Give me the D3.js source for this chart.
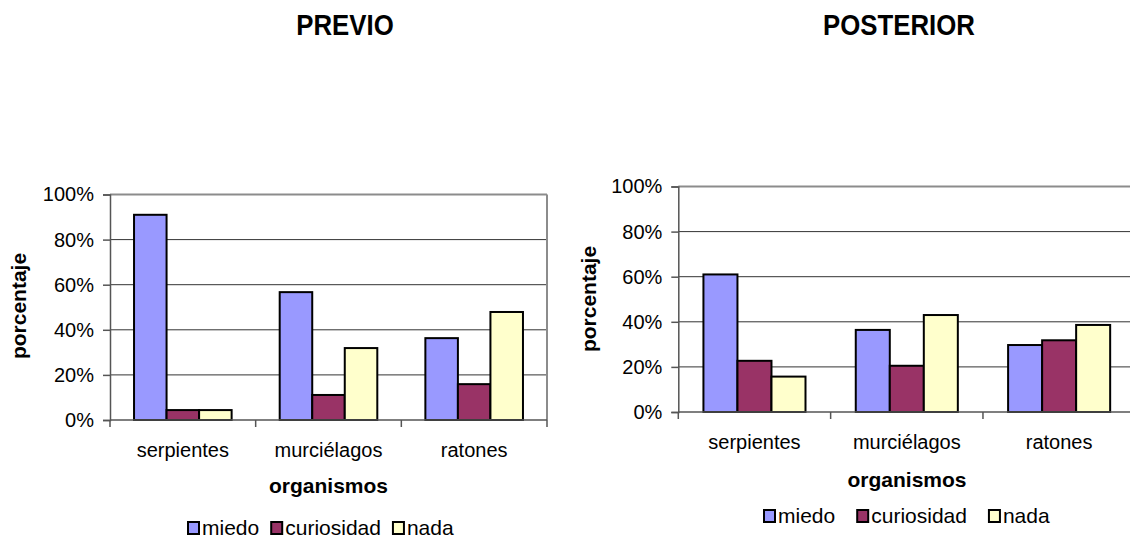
<!DOCTYPE html>
<html>
<head>
<meta charset="utf-8">
<script src="https://cdn.jsdelivr.net/npm/d3@7"></script>
<style>
  body { margin: 0; background: #fff; }
  svg text { font-family: "Liberation Sans", Arial, sans-serif; fill: #000; }
</style>
</head>
<body>
<svg id="chart" width="1130" height="550"></svg>
<script>
// categories / series / ticks
const categories = ['serpientes', 'murciélagos', 'ratones'];
const seriesNames = ['miedo', 'curiosidad', 'nada'];
const seriesColors = ['#9999FF', '#993366', '#FFFFCC'];
const yTicks = [0, 20, 40, 60, 80, 100];

// PREVIO values (%)
const previoMiedo      = [91, 56.7, 36.3];
const previoCuriosidad = [4.4, 11.1, 15.9];
const previoNada       = [4.4, 31.9, 47.9];

// POSTERIOR values (%)
const posteriorMiedo      = [61, 36.4, 29.7];
const posteriorCuriosidad = [22.7, 20.5, 31.8];
const posteriorNada       = [15.7, 43, 38.6];

const svg = d3.select('#chart');

function drawChart(opt) {
  const g = svg.append('g');
  const x = d3.scaleBand().domain(categories).range([opt.left, opt.right]).padding(0);
  const bw = x.bandwidth();
  const xs = d3.scaleBand().domain(seriesNames).range([0.165 * bw, 0.835 * bw]).padding(0);
  const y = d3.scaleLinear().domain([0, 100]).range([opt.bottom, opt.top]);

  // gridlines
  g.selectAll('.grid')
    .data(yTicks.filter(t => t > 0))
    .join('line')
    .attr('x1', opt.left).attr('x2', opt.right)
    .attr('y1', d => y(d)).attr('y2', d => y(d))
    .attr('stroke', d => d === 100 ? '#8c8c8c' : '#333')
    .attr('stroke-width', d => d === 100 ? 2 : 1);

  // right border of plot
  g.append('line')
    .attr('x1', opt.right).attr('x2', opt.right)
    .attr('y1', y(100)).attr('y2', y(0))
    .attr('stroke', '#8c8c8c').attr('stroke-width', 2);

  // bars
  const rows = categories.map((c, i) => ({ cat: c, vals: opt.series.map(s => s[i]) }));
  rows.forEach(r => {
    g.selectAll(null)
      .data(r.vals.map((v, j) => ({ v, name: seriesNames[j], col: seriesColors[j] })))
      .join('rect')
      .attr('x', d => x(r.cat) + xs(d.name))
      .attr('y', d => y(d.v))
      .attr('width', xs.bandwidth())
      .attr('height', d => y(0) - y(d.v))
      .attr('fill', d => d.col)
      .attr('stroke', '#000')
      .attr('stroke-width', 2);
  });

  // y axis
  const yAxis = g.append('g')
    .attr('transform', `translate(${opt.left},0)`)
    .call(d3.axisLeft(y).tickValues(yTicks).tickFormat(d => d + '%').tickSize(7).tickPadding(9));
  yAxis.select('.domain').attr('stroke', '#555').attr('stroke-width', 1.5);
  yAxis.selectAll('.tick line').attr('stroke', '#555').attr('stroke-width', 1.5);
  yAxis.selectAll('.tick text')
    .style('font-size', '20px')
    .style('font-family', '"Liberation Sans", Arial, sans-serif')
    .attr('fill', '#000');

  // x axis line + ticks at category boundaries
  g.append('line')
    .attr('x1', opt.left).attr('x2', opt.right)
    .attr('y1', y(0)).attr('y2', y(0))
    .attr('stroke', '#555').attr('stroke-width', 1.5);
  const bounds = categories.map(c => x(c)).concat([opt.right]);
  g.selectAll('.xtick')
    .data(bounds)
    .join('line')
    .attr('x1', d => d).attr('x2', d => d)
    .attr('y1', y(0)).attr('y2', y(0) + 7)
    .attr('stroke', '#555').attr('stroke-width', 1.5);

  g.selectAll('.xlab')
    .data(categories)
    .join('text')
    .attr('x', d => x(d) + bw / 2)
    .attr('y', opt.catY)
    .attr('text-anchor', 'middle')
    .style('font-size', '20px')
    .text(d => d);

  const cx = (opt.left + Math.min(opt.right, 1130 + 5)) / 2;

  g.append('text')
    .attr('x', opt.xTitleX).attr('y', opt.xTitleY)
    .attr('text-anchor', 'middle')
    .style('font-size', '21px').style('font-weight', 'bold')
    .text('organismos');

  g.append('text')
    .attr('transform', `translate(${opt.yTitleX},${opt.yTitleY}) rotate(-90)`)
    .attr('text-anchor', 'middle')
    .attr('dy', '0.35em')
    .style('font-size', '21px').style('font-weight', 'bold')
    .text('porcentaje');

  // chart title (condensed bold)
  g.append('text')
    .attr('transform', `translate(${opt.titleX},${opt.titleY}) scale(0.86,1)`)
    .attr('text-anchor', 'middle')
    .style('font-size', '30px').style('font-weight', 'bold')
    .text(opt.title);

  // legend
  const leg = g.append('g');
  let lx = opt.legX;
  seriesNames.forEach((name, j) => {
    leg.append('rect')
      .attr('x', lx).attr('y', opt.legY - 13)
      .attr('width', 11).attr('height', 12)
      .attr('fill', seriesColors[j])
      .attr('stroke', '#000').attr('stroke-width', 2);
    const t = leg.append('text')
      .attr('x', lx + 14).attr('y', opt.legY)
      .style('font-size', '21px')
      .text(name);
    lx += 14 + t.node().getComputedTextLength() + opt.legGap;
  });
}

drawChart({
  title: 'PREVIO', titleX: 345, titleY: 35,
  left: 110, right: 547, top: 194.5, bottom: 420,
  series: [previoMiedo, previoCuriosidad, previoNada],
  catY: 457, xTitleX: 328.5, xTitleY: 493,
  yTitleX: 19, yTitleY: 306,
  legX: 188, legY: 535, legGap: 12
});

drawChart({
  title: 'POSTERIOR', titleX: 899, titleY: 35,
  left: 678.3, right: 1135.3, top: 186.5, bottom: 412,
  series: [posteriorMiedo, posteriorCuriosidad, posteriorNada],
  catY: 449, xTitleX: 907, xTitleY: 487,
  yTitleX: 589, yTitleY: 299,
  legX: 764, legY: 523, legGap: 22
});
</script>
</body>
</html>
